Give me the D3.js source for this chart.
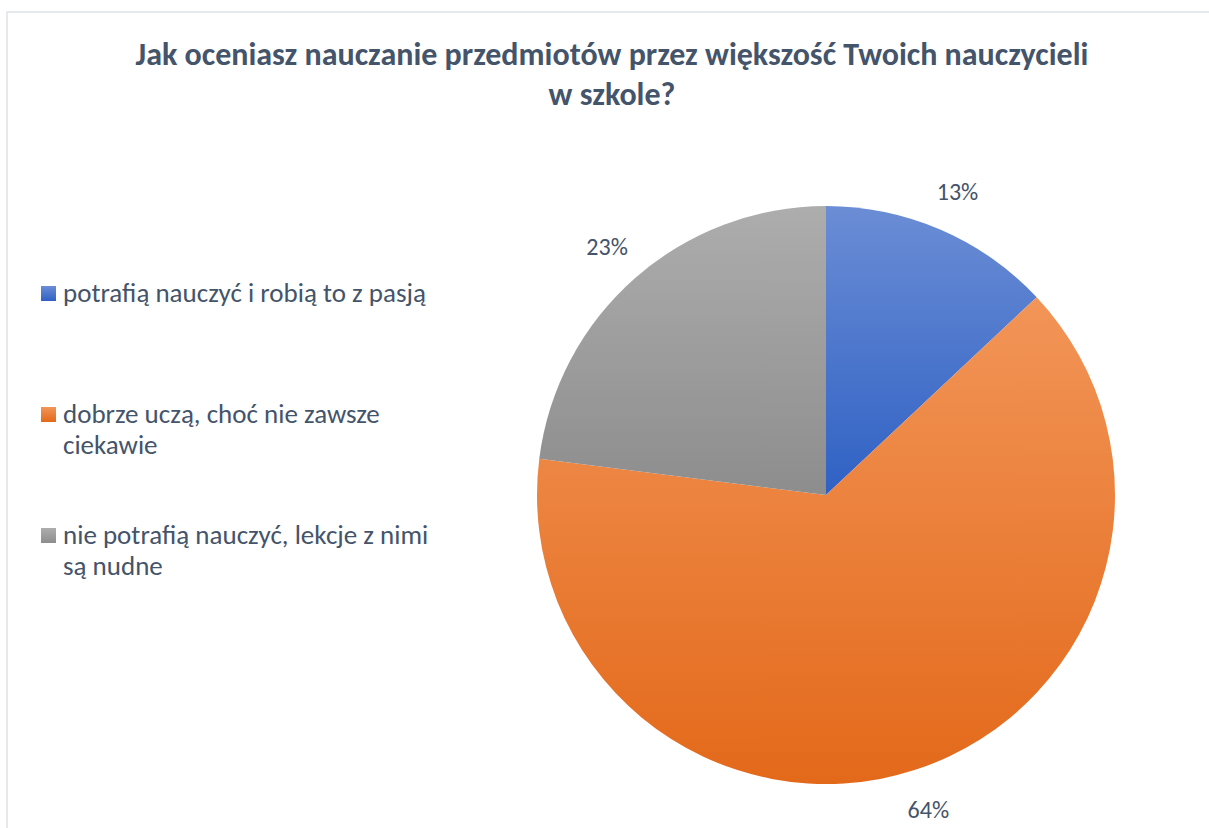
<!DOCTYPE html>
<html lang="pl">
<head>
<meta charset="utf-8">
<title>Nauczanie przedmiotów</title>
<script src="https://cdn.jsdelivr.net/npm/d3@7"></script>
<style>
  body { margin: 0; background: #fff; }
  svg { display: block; font-family: Carlito, Calibri, "Open Sans", sans-serif; }
</style>
</head>
<body>
<div id="chart"></div>
<script>
var categories = [
  "potrafią nauczyć i robią to z pasją",
  "dobrze uczą, choć nie zawsze ciekawie",
  "nie potrafią nauczyć, lekcje z nimi są nudne"
];
var legendLines = [
  ["potrafią nauczyć i robią to z pasją"],
  ["dobrze uczą, choć nie zawsze", "ciekawie"],
  ["nie potrafią nauczyć, lekcje z nimi", "są nudne"]
];
var values = [13, 64, 23];
var colorsTop = ["#6b8dd5", "#f29558", "#adadad"];
var colorsBottom = ["#2f61c4", "#e3691a", "#8d8d8d"];
var titleLines = ["Jak oceniasz nauczanie przedmiotów przez większość Twoich nauczycieli", "w szkole?"];

var width = 1209, height = 828;
var cx = 826, cy = 495, r = 289;

var svg = d3.select("#chart").append("svg")
    .attr("width", width)
    .attr("height", height);

// chart frame
svg.append("rect")
    .attr("x", 7).attr("y", 12)
    .attr("width", 1240).attr("height", 840)
    .attr("fill", "none")
    .attr("stroke", "#dfe3e8")
    .attr("stroke-width", 1.5);

var defs = svg.append("defs");
values.forEach(function(v, i) {
  var g = defs.append("linearGradient")
      .attr("id", "grad" + i)
      .attr("x1", 0).attr("y1", 0).attr("x2", 0).attr("y2", 1);
  g.append("stop").attr("offset", "0%").attr("stop-color", colorsTop[i]);
  g.append("stop").attr("offset", "100%").attr("stop-color", colorsBottom[i]);
});

// title
svg.append("g").selectAll("text")
    .data(titleLines)
  .enter().append("text")
    .attr("x", 612)
    .attr("y", function(d, i) { return 65 + i * 40; })
    .attr("text-anchor", "middle")
    .attr("font-size", 32)
    .attr("font-weight", "bold")
    .attr("fill", "#44546a")
    .text(function(d) { return d; });

var pie = d3.pie().sort(null).value(function(d) { return d; });
var arc = d3.arc().innerRadius(0).outerRadius(r);
var labelArc = d3.arc().innerRadius(r + 42).outerRadius(r + 42);

var arcs = pie(values);
var g = svg.append("g").attr("transform", "translate(" + cx + "," + cy + ")");

g.selectAll("path")
    .data(arcs)
  .enter().append("path")
    .attr("d", arc)
    .attr("fill", function(d, i) { return "url(#grad" + i + ")"; });

g.selectAll(".lbl")
    .data(arcs)
  .enter().append("text")
    .attr("class", "lbl")
    .attr("transform", function(d) { return "translate(" + labelArc.centroid(d) + ")"; })
    .attr("text-anchor", "middle")
    .attr("dy", "0.35em")
    .attr("font-size", 24)
    .attr("fill", "#44546a")
    .text(function(d) { return d.data + "%"; });

// legend
var legendY = [293, 414, 535];
var leg = svg.append("g");
legendLines.forEach(function(lines, i) {
  leg.append("rect")
      .attr("x", 41).attr("y", legendY[i] - 7)
      .attr("width", 15).attr("height", 15)
      .attr("fill", "url(#grad" + i + ")");
  lines.forEach(function(t, j) {
    leg.append("text")
        .attr("x", 63)
        .attr("y", legendY[i] + j * 31)
        .attr("dy", "0.35em")
        .attr("font-size", 27)
        .attr("fill", "#44546a")
        .text(t);
  });
});
</script>
</body>
</html>
